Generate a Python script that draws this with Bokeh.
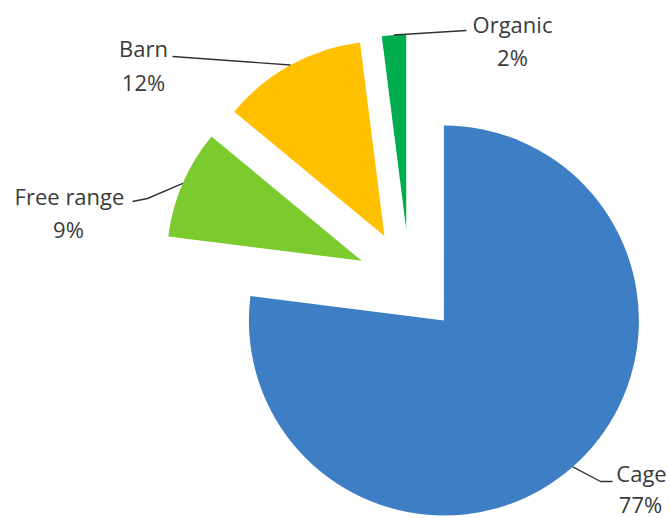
import math
from bokeh.plotting import figure
from bokeh.models import ColumnDataSource
from bokeh.core.properties import value
from bokeh.embed import file_html
from bokeh.resources import INLINE

# ---- data ----
categories = ["Cage", "Free range", "Barn", "Organic"]
shares = [77, 9, 12, 2]
pct_labels = ["77%", "9%", "12%", "2%"]
colors = ["#3D7EC4", "#7CCB2E", "#FFC000", "#00AD4E"]

# ---- layout (screen pixels, y down) ----
W, H = 670, 518
CX, CY = 409, 281          # pie centre
R = 195                    # radius
EXPLODE = 52               # explosion distance
# label name / percent centres and leader elbow points
name_pos = {"Cage": (641, 472), "Free range": (69, 195), "Barn": (143, 47), "Organic": (512, 23)}
pct_pos = {"Cage": (640, 503), "Free range": (68, 228), "Barn": (143, 81), "Organic": (512, 56)}
leader_pts = {
    "Cage": [(600, 481), (612, 481)],
    "Free range": [(147, 198), (132, 201)],
    "Barn": [(172, 56)],
    "Organic": [(466, 30)],
}

def dy(y):
    return H - y

p = figure(width=W, height=H, x_range=(0, W), y_range=(0, H),
           x_axis_type=None, y_axis_type=None, toolbar_location=None,
           output_backend="svg", min_border=0, outline_line_color=None)
p.grid.visible = False
p.background_fill_color = "white"
p.border_fill_color = "white"

total = float(sum(shares))
cum = 0.0
xs, ys, starts, ends, cols = [], [], [], [], []
lead_x, lead_y = [], []
for cat, s, col in zip(categories, shares, colors):
    t1 = cum / total * 360.0
    t2 = (cum + s) / total * 360.0
    cum += s
    tm = math.radians((t1 + t2) / 2.0)
    ax = CX + EXPLODE * math.sin(tm)
    ay = dy(CY) + EXPLODE * math.cos(tm)
    xs.append(ax); ys.append(ay)
    starts.append(math.radians(90.0 - t2))
    ends.append(math.radians(90.0 - t1))
    cols.append(col)
    # leader line from arc midpoint
    px = ax + R * math.sin(tm)
    py = ay + R * math.cos(tm)
    lx = [px] + [q[0] for q in leader_pts[cat]]
    ly = [py] + [dy(q[1]) for q in leader_pts[cat]]
    lead_x.append(lx); lead_y.append(ly)

src = ColumnDataSource(dict(x=xs, y=ys, start=starts, end=ends, color=cols))
p.wedge(x="x", y="y", radius=R, start_angle="start", end_angle="end",
        fill_color="color", line_color=None, source=src)

p.multi_line(xs=lead_x, ys=lead_y, line_color="#333333", line_width=1.4)

tsrc = ColumnDataSource(dict(
    x=[name_pos[c][0] for c in categories] + [pct_pos[c][0] for c in categories],
    y=[dy(name_pos[c][1]) for c in categories] + [dy(pct_pos[c][1]) for c in categories],
    t=list(categories) + list(pct_labels),
))
p.text(x="x", y="y", text="t", source=tsrc, text_font=value("Open Sans"),
       text_font_size="22px", text_color="#3A3A3A", text_align="center",
       text_baseline="middle")

open("out.html", "w").write(file_html(p, INLINE))
